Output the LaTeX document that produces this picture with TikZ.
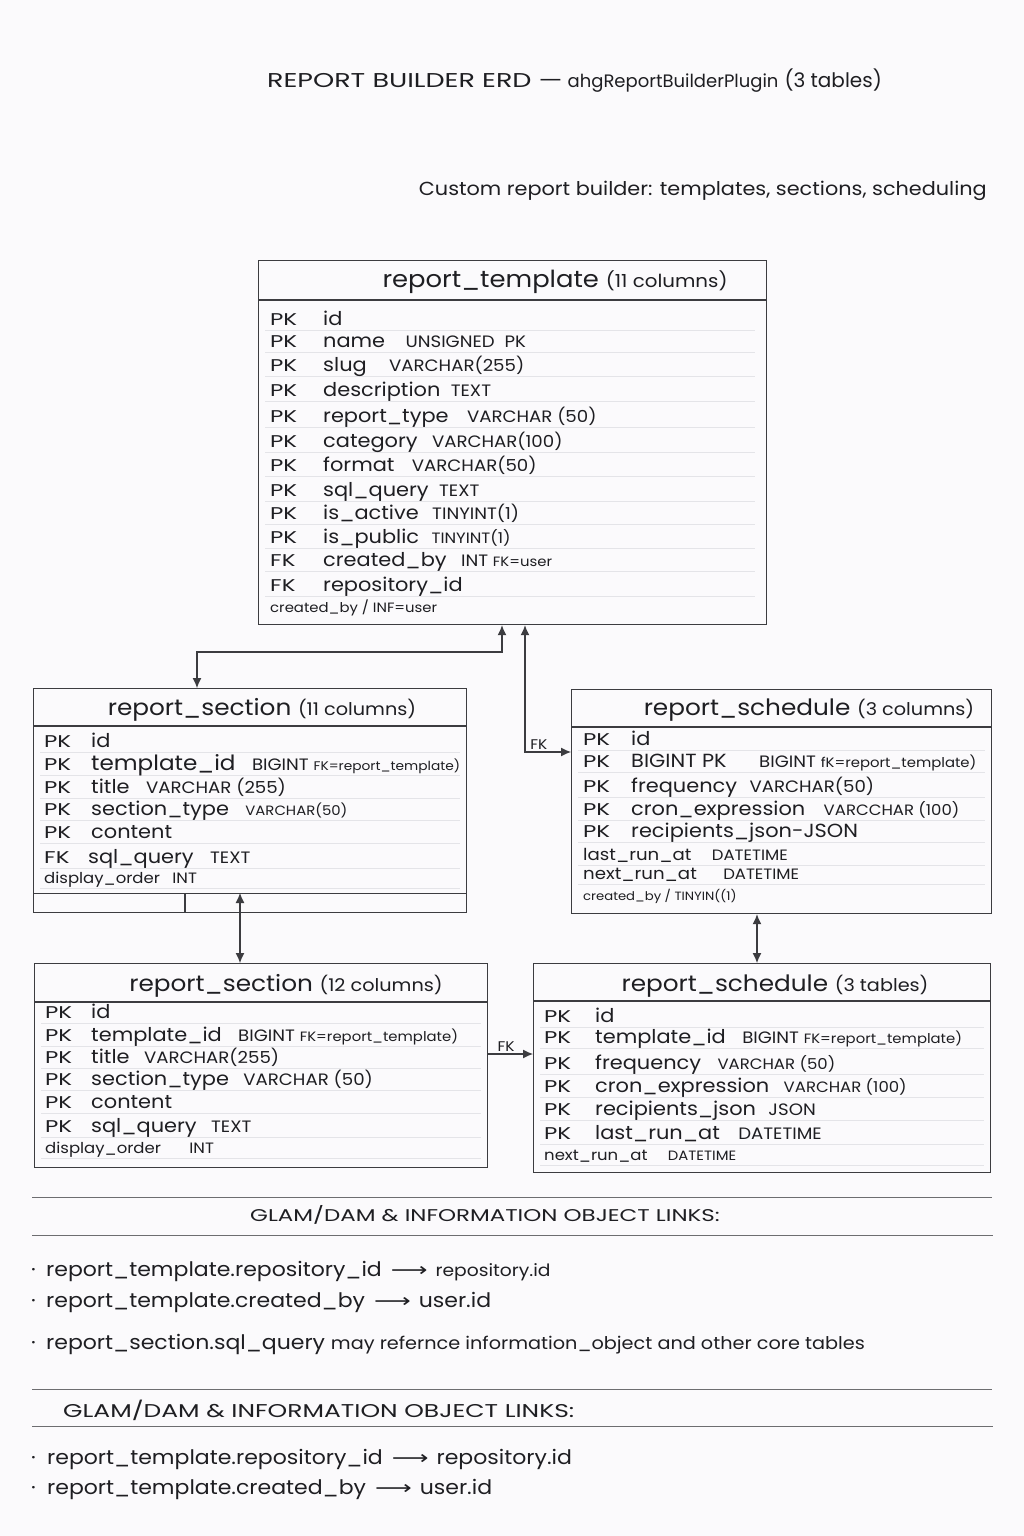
\documentclass[tikz,border=0pt]{standalone}
\usepackage{fontspec}
\setmainfont{Poppins}[FakeStretch=1.1]
\newfontfamily\plainf{Poppins}
\newfontfamily\capsf{Poppins}[FakeStretch=1.35]
\newfontfamily\symf{DejaVu Sans}[FakeStretch=1.35]
\usetikzlibrary{arrows.meta}
\definecolor{bgc}{HTML}{FBFAFC}
\definecolor{linec}{HTML}{3C3C40}
\definecolor{txtc}{HTML}{1E1E22}
\definecolor{sepc}{HTML}{E4E4E8}
\newcommand\myfs[1]{\fontsize{#1}{#1}\selectfont}
\newcounter{rowc}
\newcommand\settbl[2]{\def\sxa{#1}\def\sxb{#2}}
% keyed row: [gap]{keyx}{namex}{baseline}{key}{name}{type}
\newcommand\erow[7][14pt]{%
 \stepcounter{rowc}\edef\rowid{\arabic{rowc}}%
 \draw[sepl] (\sxa,{#4+5}) -- (\sxb,{#4+5});
 \node[keyt] (rk\rowid) at (#2,#4) {#5};
 \node[namet] (rn\rowid) at (#3,#4) {#6};
 \node[typet] (rt\rowid) at ([xshift=#1]rn\rowid.base east) {#7};
}
% free row: [gap]{x}{baseline}{namesize}{typesize}{name}{type}
\newcommand\frow[7][14pt]{%
 \stepcounter{rowc}\edef\rowid{\arabic{rowc}}%
 \draw[sepl] (\sxa,{#3+5}) -- (\sxb,{#3+5});
 \node[namet, font=\myfs{#4}] (rn\rowid) at (#2,#3) {#6};
 \node[typet, font=\myfs{#5}] (rt\rowid) at ([xshift=#1]rn\rowid.base east) {#7};
}
\tikzset{
 tbl/.style={draw=linec, line width=1.2pt, fill=bgc, inner sep=0pt, anchor=north west},
 tline/.style={draw=linec, line width=1.2pt},
 sepl/.style={draw=sepc, line width=0.7pt},
 keyt/.style={anchor=base west, inner sep=0pt, font=\capsf\myfs{17}, text=txtc},
 namet/.style={anchor=base west, inner sep=0pt, font=\myfs{19}, text=txtc},
 typet/.style={anchor=base west, inner sep=0pt, font=\myfs{16.5}, text=txtc},
 headt/.style={anchor=base, inner sep=0pt, font=\myfs{22.5}, text=txtc},
 conn/.style={draw=linec, line width=1.1pt, {Latex[length=10pt,width=9pt]}-{Latex[length=10pt,width=9pt]}},
 conn1/.style={draw=linec, line width=1.1pt, -{Latex[length=10pt,width=9pt]}},
 lbl/.style={font=\myfs{14}, text=txtc, inner sep=1pt, anchor=base},
 botline/.style={draw=linec!75, line width=1pt},
 bott/.style={anchor=base west, inner sep=0pt, font=\myfs{20}, text=txtc},
}
\newcommand\smt[1]{{\myfs{13.5}#1}}
\newcommand\hsm[1]{{\myfs{17.5}#1}}
\newcommand\arr{\hspace{9pt}{\symf\myfs{19}⟶}\hspace{8pt}}
\begin{document}
\begin{tikzpicture}[x=1pt,y=-1pt]
\fill[bgc] (0,0) rectangle (1024,1536);
\useasboundingbox (0,0) rectangle (1024,1536);

% titles
\node[anchor=base west, inner sep=0pt, text=txtc] (title) at (267,88)
  {{\capsf\myfs{20}REPORT BUILDER ERD —}\hspace{5pt}{\plainf\myfs{18}ahgReportBuilderPlugin}\hspace{6pt}{\plainf\myfs{20}(3 tables)}};
\node[anchor=base east, inner sep=0pt, font=\myfs{18.9}, text=txtc] (sub) at (987,195)
  {Custom report builder: templates, sections, scheduling};

% ---------- table A: report_template
\node[tbl, minimum width=508pt, minimum height=364pt] (tA) at (258,260) {};
\draw[tline] (258,300) -- (766,300);
\node[headt, font=\myfs{23.5}] (hA) at (555,287) {report\_template {\myfs{18}(11 columns)}};
\settbl{265}{755}
\erow{270}{323}{325}{PK}{id}{}
\erow[20pt]{270}{323}{347}{PK}{name}{UNSIGNED\hspace{10pt}PK}
\erow[22pt]{270}{323}{371}{PK}{slug}{VARCHAR(255)}
\erow[10pt]{270}{323}{396}{PK}{description}{TEXT}
\erow[18pt]{270}{323}{422}{PK}{report\_type}{VARCHAR (50)}
\erow{270}{323}{447}{PK}{category}{VARCHAR(100)}
\erow[17pt]{270}{323}{471}{PK}{format}{VARCHAR(50)}
\erow[10pt]{270}{323}{496}{PK}{sql\_query}{TEXT}
\erow[13pt]{270}{323}{519}{PK}{is\_active}{TINYINT(1)}
\erow[12pt]{270}{323}{543}{PK}{is\_public}{{\myfs{15}TINYINT(1)}}
\erow{270}{323}{566}{FK}{created\_by}{INT \smt{FK=user}}
\erow{270}{323}{591}{FK}{repository\_id}{}
\node[anchor=base west, inner sep=0pt, font=\myfs{13.5}, text=txtc] (fA) at (270,612) {created\_by / INF=user};

% ---------- table B: report_section (11 columns)
\node[tbl, minimum width=433pt, minimum height=205pt] (tB) at (33,688) {};
\node[tbl, minimum width=433pt, minimum height=19pt] (tBs) at (33,893) {};
\draw[tline] (185,893) -- (185,912);
\draw[tline] (33,726) -- (466,726);
\node[headt] (hB) at (262,715) {report\_section \hsm{(11 columns)}};
\settbl{40}{460}
\erow{44}{91}{747}{PK}{id}{}
\erow[16pt]{44}{91}{770}{PK}{{\myfs{21}template\_id}}{BIGINT {\myfs{12.5}FK=report\_template)}}
\erow[16pt]{44}{91}{793}{PK}{title}{VARCHAR (255)}
\erow[16pt]{44}{91}{815}{PK}{section\_type}{\smt{VARCHAR(50)}}
\erow{44}{91}{838}{PK}{content}{}
\erow[16pt]{44}{88}{863}{FK}{sql\_query}{TEXT}
\frow[12pt]{44}{883}{15}{15}{display\_order}{INT}

% ---------- table C: report_schedule (3 columns)
\node[tbl, minimum width=420pt, minimum height=224pt] (tC) at (571,689) {};
\draw[tline] (571,727) -- (991,727);
\node[headt] (hC) at (809,715) {report\_schedule \hsm{(3 columns)}};
\settbl{578}{985}
\erow{583}{631}{745}{PK}{id}{}
\erow[32pt]{583}{631}{767}{PK}{BIGINT PK}{BIGINT \smt{fK=report\_template)}}
\erow[12pt]{583}{631}{792}{PK}{frequency}{VARCHAR(50)}
\erow[18pt]{583}{631}{815}{PK}{cron\_expression}{\myfs{15}VARCCHAR (100)}
\erow[0pt]{583}{631}{837}{PK}{recipients\_json-JSON}{}
\frow[20pt]{583}{860}{16.5}{15}{last\_run\_at}{DATETIME}
\frow[26pt]{583}{879}{16.5}{15}{next\_run\_at}{DATETIME}
\node[anchor=base west, inner sep=0pt, font=\myfs{12}, text=txtc] (fC) at (583,900) {created\_by / TINYIN((1)};

% ---------- table D: report_section (12 columns)
\node[tbl, minimum width=453pt, minimum height=204pt] (tD) at (34,963) {};
\draw[tline] (34,1002) -- (487,1002);
\node[headt] (hD) at (286,991) {report\_section \hsm{(12 columns)}};
\settbl{41}{481}
\erow{45}{91}{1018}{PK}{id}{}
\erow[16pt]{45}{91}{1041}{PK}{template\_id}{BIGINT \smt{FK=report\_template)}}
\erow[14pt]{45}{91}{1063}{PK}{title}{VARCHAR(255)}
\erow[14pt]{45}{91}{1085}{PK}{section\_type}{VARCHAR (50)}
\erow{45}{91}{1108}{PK}{content}{}
\erow[14pt]{45}{91}{1132}{PK}{sql\_query}{TEXT}
\frow[28pt]{45}{1153}{15}{15}{display\_order}{INT}

% ---------- table E: report_schedule (3 tables)
\node[tbl, minimum width=457pt, minimum height=209pt] (tE) at (533,963) {};
\draw[tline] (533,1001) -- (990,1001);
\node[headt] (hE) at (775,991) {report\_schedule \hsm{(3 tables)}};
\settbl{540}{984}
\erow{544}{595}{1022}{PK}{id}{}
\erow[16pt]{544}{595}{1043}{PK}{template\_id}{BIGINT \smt{FK=report\_template)}}
\erow[16pt]{544}{595}{1069}{PK}{frequency}{\myfs{15}VARCHAR (50)}
\erow[14pt]{544}{595}{1092}{PK}{cron\_expression}{\myfs{15}VARCHAR (100)}
\erow[12pt]{544}{595}{1115}{PK}{recipients\_json}{JSON}
\erow[18pt]{544}{595}{1139}{PK}{last\_run\_at}{DATETIME}
\frow[20pt]{544}{1160}{15}{13.5}{next\_run\_at}{DATETIME}

% ---------- connectors
\coordinate (cA1) at (502,652);
\coordinate (cA2) at (197,652);
\draw[conn] (tA.south -| cA1) -- (cA1) -- (cA2) -- (tB.north -| cA2);
\coordinate (cB1) at (525,752);
\draw[conn] (tA.south -| cB1) -- (cB1) -- (tC.west |- cB1) node[lbl, pos=0.3, above=1pt] (fk1) {FK};
\coordinate (cC1) at (757,0);
\draw[conn] (tC.south -| cC1) -- (tE.north -| cC1);
\coordinate (cD1) at (240,0);
\draw[conn] (tBs.north -| cD1) -- (tD.north -| cD1);
\coordinate (cE1) at (0,1054);
\draw[conn1] (tD.east |- cE1) -- (tE.west |- cE1) node[lbl, pos=0.4, above=1pt] (fk2) {FK};

% ---------- links block 1
\coordinate (l1a) at (32,1197); \coordinate (l1b) at (992,1197);
\draw[botline] (l1a) -- (l1b);
\node[anchor=base, inner sep=0pt, font=\capsf\myfs{17}, text=txtc] (g1) at (485,1221) {GLAM/DAM \& INFORMATION OBJECT LINKS:};
\coordinate (l2a) at (32,1235); \coordinate (l2b) at (993,1235);
\draw[botline] (l2a) -- (l2b);
\node[bott] (d1) at (31,1276) {·};
\node[bott] (b1) at (46,1276) {report\_template.repository\_id\arr{\myfs{17}repository.id}};
\node[bott] (d2) at (31,1307) {·};
\node[bott] (b2) at (46,1307) {report\_template.created\_by\arr user.id};
\node[bott] (d3) at (31,1349) {·};
\node[bott] (b3) at (46,1349) {report\_section.sql\_query {\myfs{17.5}may refernce information\_object and other core tables}};

% ---------- links block 2
\coordinate (l3a) at (32,1389); \coordinate (l3b) at (992,1389);
\draw[botline] (l3a) -- (l3b);
\node[anchor=base west, inner sep=0pt, font=\capsf\myfs{18.5}, text=txtc] (g2) at (63,1417) {GLAM/DAM \& INFORMATION OBJECT LINKS:};
\coordinate (l4a) at (32,1426); \coordinate (l4b) at (993,1426);
\draw[botline] (l4a) -- (l4b);
\node[bott] (d4) at (31,1464) {·};
\node[bott] (b4) at (47,1464) {report\_template.repository\_id\arr repository.id};
\node[bott] (d5) at (31,1494) {·};
\node[bott] (b5) at (47,1494) {report\_template.created\_by\arr user.id};
\end{tikzpicture}
\end{document}
